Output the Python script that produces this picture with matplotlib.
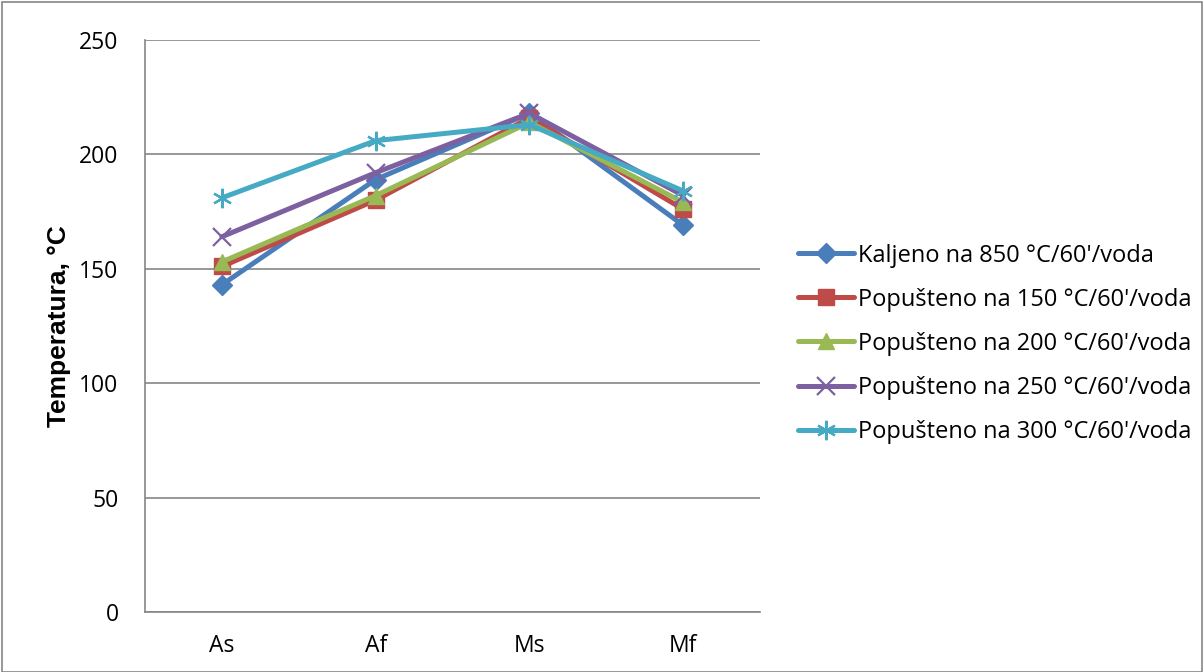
import numpy as np
import matplotlib
matplotlib.use("Agg")
import matplotlib.pyplot as plt
from matplotlib.patches import Rectangle

# categories and series values
categories = ["As", "Af", "Ms", "Mf"]
kaljeno_850 = [143, 189, 218, 169]
popusteno_150 = [151, 180, 216, 176]
popusteno_200 = [153, 182, 214, 179]
popusteno_250 = [164, 192, 218, 182]
popusteno_300 = [181, 206, 213, 184]

labels = ["Kaljeno na 850 °C/60'/voda",
          "Popušteno na 150 °C/60'/voda",
          "Popušteno na 200 °C/60'/voda",
          "Popušteno na 250 °C/60'/voda",
          "Popušteno na 300 °C/60'/voda"]

series = [kaljeno_850, popusteno_150, popusteno_200, popusteno_250, popusteno_300]
colors = ["#4A7EBB", "#BE4B48", "#98B954", "#7D60A0", "#46AAC5"]
markers = ["D", "s", "^", "x", (6, 2, 0)]
msizes = [10, 11, 12, 13, 14]

plt.rcParams["font.family"] = ["Open Sans", "DejaVu Sans"]

fig = plt.figure(figsize=(12.04, 6.72), dpi=100)
ax = fig.add_axes([0.1204, 0.0893, 0.511, 0.8512])

x = np.arange(len(categories))
for vals, c, m, ms, lab in zip(series, colors, markers, msizes, labels):
    ax.plot(x, vals, color=c, lw=3.6, marker=m, ms=ms, mec=c, mfc=c,
            mew=1.6 if m in ("x", (6, 2, 0)) else 1, label=lab,
            solid_capstyle="round", solid_joinstyle="round")

ax.set_xlim(-0.5, 3.5)
ax.set_ylim(0, 250)
ax.set_yticks(range(0, 251, 50))
ax.set_xticks(x)
ax.set_xticklabels(categories)
ax.tick_params(axis="both", length=0, labelsize=16.5)
ax.tick_params(axis="x", pad=16)
ax.tick_params(axis="y", pad=19)
ax.yaxis.grid(True, color="#868686", lw=1.2)
ax.set_axisbelow(True)
for s in ["top", "right"]:
    ax.spines[s].set_visible(False)
for s in ["left", "bottom"]:
    ax.spines[s].set_color("#868686")
    ax.spines[s].set_linewidth(1.2)

ax.set_ylabel("Temperatura, °C", fontsize=19, fontweight="bold",
              family=["Liberation Sans", "DejaVu Sans"], labelpad=6)

leg = ax.legend(loc="center left", bbox_to_anchor=(1.062, 0.469), frameon=False,
                fontsize=17, handlelength=2.37, handletextpad=0.17,
                labelspacing=0.85, borderpad=0, borderaxespad=0)

# outer border of the chart area
fig.patches.append(Rectangle((0.0015, 0.0), 0.997, 0.997, transform=fig.transFigure,
                             fill=False, edgecolor="#868686", lw=1.2))

fig.savefig("out.png", dpi=100)
